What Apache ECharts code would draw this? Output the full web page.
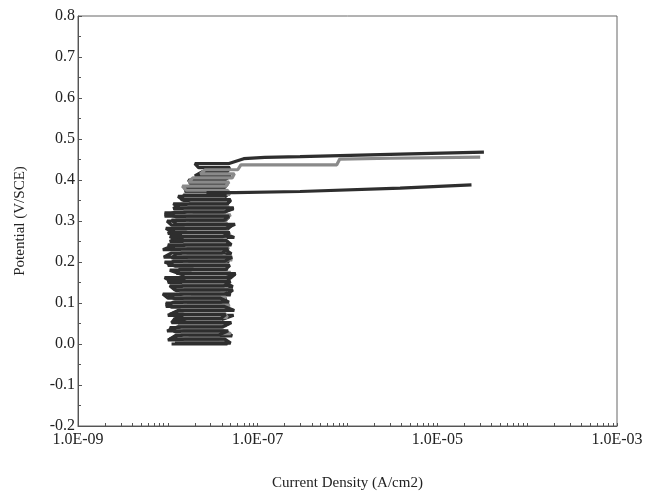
<!DOCTYPE html>
<html>
<head>
<meta charset="utf-8">
<script src="https://cdn.jsdelivr.net/npm/echarts@6/dist/echarts.min.js"></script>
<style>
html,body{margin:0;padding:0;background:#fff;}
#c{width:653px;height:496px;}
</style>
</head>
<body>
<div id="c"></div>
<script>
// Each noisy scan is a stack of horizontal excursions: one potential level, left and right current (A/cm2)
// Series A (dark, highest breakdown)
var levelsA = [0.00,0.01,0.02,0.03,0.04,0.05,0.06,0.07,0.08,0.09,0.10,0.11,0.12,0.13,0.14,0.15,0.16,0.17,0.18,0.19,0.20,0.21,0.22,0.23,0.24,0.25,0.26,0.27,0.28,0.29,0.30,0.31,0.32,0.33,0.34,0.35,0.36,0.37,0.38,0.39,0.40,0.41,0.42,0.43];
var leftA  = [1.10e-8,1.00e-8,1.30e-8,1.20e-8,1.05e-8,1.40e-8,1.15e-8,1.00e-8,1.30e-8,1.10e-8,0.95e-8,1.20e-8,1.00e-8,1.25e-8,1.10e-8,1.00e-8,1.15e-8,1.40e-8,1.05e-8,1.20e-8,0.92e-8,1.10e-8,1.25e-8,0.88e-8,1.15e-8,1.05e-8,1.30e-8,1.00e-8,1.20e-8,1.10e-8,0.98e-8,1.25e-8,0.92e-8,1.15e-8,1.35e-8,1.50e-8,1.30e-8,1.60e-8,1.55e-8,1.80e-8,1.70e-8,2.00e-8,2.40e-8,2.20e-8];
var rightA = [4.6e-8,3.9e-8,5.2e-8,4.4e-8,3.6e-8,4.8e-8,4.0e-8,5.4e-8,4.2e-8,4.7e-8,3.8e-8,4.5e-8,5.0e-8,4.1e-8,5.3e-8,4.3e-8,4.9e-8,5.6e-8,4.6e-8,4.0e-8,4.8e-8,4.2e-8,5.1e-8,4.4e-8,3.9e-8,4.7e-8,5.5e-8,4.1e-8,4.6e-8,5.2e-8,4.3e-8,4.8e-8,4.0e-8,5.4e-8,4.5e-8,5.0e-8,4.4e-8,4.9e-8,4.2e-8,4.6e-8,4.3e-8,5.0e-8,4.6e-8,4.9e-8];
var tailPotentialA = [0.440,0.440,0.452,0.455,0.457,0.463,0.468];
var tailCurrentA   = [2.0e-8,4.8e-8,7.0e-8,1.2e-7,2.97e-7,3.85e-6,3.3e-5];

// Series B (grey)
var levelsB = [0.005,0.015,0.025,0.035,0.045,0.055,0.065,0.075,0.085,0.095,0.105,0.115,0.125,0.135,0.145,0.155,0.165,0.175,0.185,0.195,0.205,0.215,0.225,0.235,0.245,0.255,0.265,0.275,0.285,0.295,0.305,0.315,0.325,0.335,0.345,0.355,0.365,0.375,0.385,0.395,0.405,0.415,0.425];
var leftB  = [1.50e-8,1.70e-8,1.40e-8,1.60e-8,1.30e-8,1.80e-8,1.50e-8,1.70e-8,1.40e-8,1.60e-8,1.50e-8,1.80e-8,1.35e-8,1.60e-8,1.45e-8,1.70e-8,1.55e-8,1.90e-8,2.00e-8,1.50e-8,1.70e-8,1.60e-8,1.40e-8,1.75e-8,1.50e-8,1.65e-8,1.45e-8,1.80e-8,1.55e-8,1.70e-8,1.60e-8,1.90e-8,1.50e-8,1.70e-8,1.80e-8,1.60e-8,1.50e-8,1.60e-8,1.45e-8,1.70e-8,1.90e-8,2.30e-8,2.60e-8];
var rightB = [4.2e-8,3.7e-8,5.0e-8,4.0e-8,4.5e-8,3.9e-8,4.6e-8,4.3e-8,3.8e-8,4.9e-8,4.1e-8,4.4e-8,3.9e-8,4.7e-8,4.0e-8,4.5e-8,4.2e-8,5.0e-8,4.4e-8,4.6e-8,5.2e-8,4.3e-8,4.0e-8,4.8e-8,4.2e-8,4.5e-8,3.9e-8,4.7e-8,4.1e-8,4.6e-8,4.4e-8,5.0e-8,4.3e-8,4.8e-8,4.5e-8,4.2e-8,4.9e-8,4.6e-8,4.4e-8,4.8e-8,5.2e-8,5.5e-8,6.0e-8];
var tailPotentialB = [0.437,0.437,0.451,0.453,0.456];
var tailCurrentB   = [6.5e-8,7.6e-7,8.2e-7,3.0e-6,3.0e-5];

// Series C (dark, lowest breakdown)
var levelsC = [0.002,0.012,0.022,0.032,0.042,0.052,0.062,0.072,0.082,0.092,0.102,0.112,0.122,0.132,0.142,0.152,0.162,0.172,0.182,0.192,0.202,0.212,0.222,0.232,0.242,0.252,0.262,0.272,0.282,0.292,0.302,0.312,0.322,0.332,0.342,0.352,0.362];
var leftC  = [1.20e-8,1.05e-8,1.25e-8,0.98e-8,1.30e-8,1.10e-8,1.20e-8,1.05e-8,1.30e-8,0.95e-8,1.15e-8,1.00e-8,0.88e-8,1.20e-8,1.05e-8,1.10e-8,0.92e-8,1.25e-8,1.35e-8,1.00e-8,1.15e-8,0.90e-8,1.10e-8,1.20e-8,1.00e-8,1.30e-8,1.05e-8,1.15e-8,0.95e-8,1.25e-8,1.10e-8,0.92e-8,1.20e-8,1.35e-8,1.15e-8,1.40e-8,1.50e-8];
var rightC = [5.0e-8,4.3e-8,3.7e-8,4.7e-8,4.1e-8,5.1e-8,3.9e-8,4.4e-8,5.5e-8,4.2e-8,4.8e-8,3.8e-8,4.6e-8,5.3e-8,4.2e-8,5.0e-8,4.5e-8,5.7e-8,4.4e-8,4.9e-8,4.3e-8,5.2e-8,4.0e-8,4.7e-8,5.1e-8,4.5e-8,4.1e-8,4.9e-8,4.4e-8,5.6e-8,4.2e-8,4.8e-8,4.3e-8,5.4e-8,4.6e-8,5.0e-8,4.5e-8];
var tailPotentialC = [0.369,0.369,0.372,0.380,0.388];
var tailCurrentC   = [2.7e-8,5.6e-8,2.97e-7,3.85e-6,2.4e-5];

var xLabelValues = [1e-9,1e-7,1e-5,1e-3];
var xTickValues = [];
for (var e = -9; e < -3; e++) { for (var k = 1; k <= 9; k++) xTickValues.push(k * Math.pow(10, e)); }
xTickValues.push(1e-3);

function buildPath(levels, left, right, tailI, tailE){
  var pts = [];
  for (var i = 0; i < levels.length; i++) {
    if (i % 2 === 0) { pts.push([left[i], levels[i]]); pts.push([right[i], levels[i]]); }
    else { pts.push([right[i], levels[i]]); pts.push([left[i], levels[i]]); }
  }
  for (var j = 0; j < tailI.length; j++) pts.push([tailI[j], tailE[j]]);
  return pts;
}
function fmtExp(v){
  var ex = Math.round(Math.log10(v));
  var s = Math.abs(ex) < 10 ? '0' + Math.abs(ex) : '' + Math.abs(ex);
  return '1.0E' + (ex < 0 ? '-' : '+') + s;
}

var font = '"Liberation Serif", "DejaVu Serif", serif';
var chart = echarts.init(document.getElementById('c'), null, {renderer:'canvas'});
chart.setOption({
  animation:false,
  backgroundColor:'#ffffff',
  grid:{left:78, right:36, top:16, bottom:70, show:true, borderColor:'#666', borderWidth:1, containLabel:false},
  xAxis:{
    type:'log', logBase:10, min:1e-9, max:1e-3,
    name:'Current Density (A/cm2)', nameLocation:'middle', nameGap:50,
    nameTextStyle:{fontFamily:font, fontSize:15, color:'#222'},
    axisLine:{show:true, onZero:false, lineStyle:{color:'#555', width:1}},
    axisTick:{show:true, inside:true, length:3, customValues:xTickValues, lineStyle:{color:'#555'}},
    minorTick:{show:false},
    axisLabel:{fontFamily:font, fontSize:16, color:'#222', margin:6, customValues:xLabelValues, formatter:function(v){return fmtExp(v);}},
    splitLine:{show:false}
  },
  yAxis:{
    type:'value', min:-0.2, max:0.8, interval:0.1,
    name:'Potential (V/SCE)', nameLocation:'middle', nameGap:50, nameRotate:90,
    nameTextStyle:{fontFamily:font, fontSize:15, color:'#222'},
    axisLine:{show:true, onZero:false, lineStyle:{color:'#555', width:1}},
    axisTick:{show:true, inside:true, length:4, lineStyle:{color:'#555'}},
    minorTick:{show:true, splitNumber:2, length:3, lineStyle:{color:'#555'}},
    axisLabel:{fontFamily:font, fontSize:16, color:'#222', margin:3, formatter:function(v){return v.toFixed(1);}},
    splitLine:{show:false}
  },
  series:[
    {type:'line', data:buildPath(levelsA, leftA, rightA, tailCurrentA, tailPotentialA), showSymbol:false, lineStyle:{color:'#2e2e2e', width:3.2}, z:2},
    {type:'line', data:buildPath(levelsB, leftB, rightB, tailCurrentB, tailPotentialB), showSymbol:false, lineStyle:{color:'#8a8a8a', width:3.2}, z:3},
    {type:'line', data:buildPath(levelsC, leftC, rightC, tailCurrentC, tailPotentialC), showSymbol:false, lineStyle:{color:'#2e2e2e', width:3.2}, z:4}
  ]
});
</script>
</body>
</html>
